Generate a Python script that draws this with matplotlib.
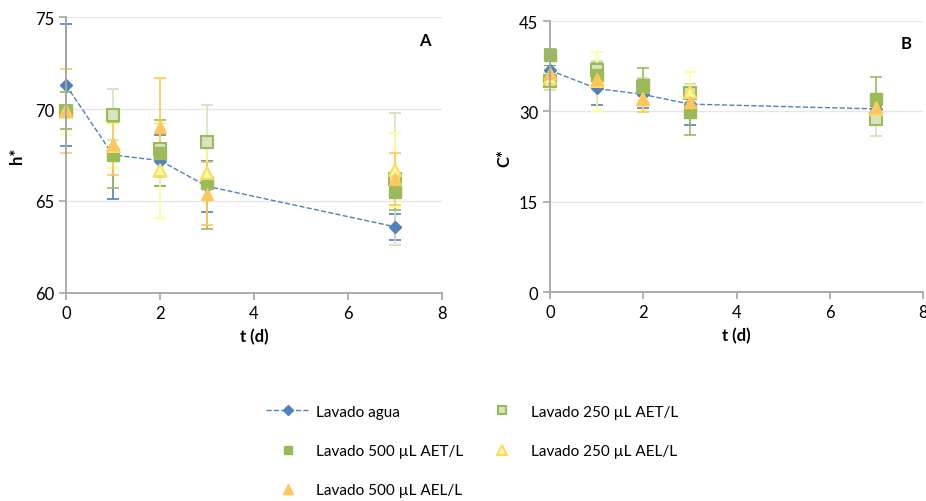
import numpy as np
import matplotlib
matplotlib.use("Agg")
import matplotlib.pyplot as plt
from matplotlib.lines import Line2D

plt.rcParams['font.family'] = ['Lato', 'DejaVu Sans']

# data
t = [0, 1, 2, 3, 7]
series = ["Lavado agua", "Lavado 250 µL AET/L", "Lavado 500 µL AET/L",
          "Lavado 250 µL AEL/L", "Lavado 500 µL AEL/L"]

h_agua = [71.3, 67.5, 67.2, 65.8, 63.6]
h_agua_err = [3.3, 2.4, 1.4, 1.4, 0.7]
h_250aet = [69.9, 69.7, 67.85, 68.2, 66.2]
h_250aet_err = [1.0, 1.4, 1.4, 2.0, 3.6]
h_500aet = [69.9, 67.5, 67.6, 66.0, 65.5]
h_500aet_err = [1.0, 1.8, 1.8, 2.5, 1.0]
h_250ael = [69.9, 68.0, 66.7, 66.5, 66.7]
h_250ael_err = [1.3, 1.2, 2.6, 1.4, 2.0]
h_500ael = [69.9, 68.1, 69.0, 65.4, 66.2]
h_500ael_err = [2.3, 1.7, 2.7, 1.7, 1.4]

c_agua = [36.8, 33.8, 32.8, 31.2, 30.4]
c_agua_err = [0.8, 2.8, 2.3, 3.4, 0.5]
c_250aet = [35.1, 36.9, 34.0, 33.0, 28.8]
c_250aet_err = [1.5, 1.5, 1.5, 1.5, 2.9]
c_500aet = [39.4, 36.0, 34.3, 29.9, 32.1]
c_500aet_err = [1.0, 2.0, 2.9, 3.9, 3.6]
c_250ael = [35.6, 35.0, 32.0, 33.2, 30.4]
c_250ael_err = [1.8, 4.9, 2.0, 3.3, 1.0]
c_500ael = [36.3, 35.3, 32.1, 31.5, 30.7]
c_500ael_err = [2.0, 1.5, 2.2, 2.3, 1.0]

blue = "#4F81BD"
green = "#9BBB59"
styles = [
    dict(marker="D", ms=6, mfc=blue, mec=blue, color=blue, ls="--", lw=1.0, ecolor=blue),
    dict(marker="s", ms=8, mfc="#D7E4BD", mec=green, mew=1.5, ls="none", ecolor="#D7E4BD"),
    dict(marker="s", ms=8, mfc=green, mec=green, ls="none", ecolor=green),
    dict(marker="^", ms=9, mfc="#FFFF99", mec="#FFD966", mew=1.5, ls="none", ecolor="#FFFF99"),
    dict(marker="^", ms=9, mfc="#FFC65A", mec="#FFC65A", ls="none", ecolor="#FFC65A"),
]

fig = plt.figure(figsize=(9.26, 5.02), dpi=100)
axA = fig.add_axes([66 / 926, 1 - 294 / 502, (442 - 66) / 926, (294 - 18) / 502])
axB = fig.add_axes([550 / 926, 1 - 293 / 502, (923 - 550) / 926, (293 - 22) / 502])


def draw(ax, vals, errs, ylim, yticks, ylabel, letter, lx):
    for lab, y, e, st in zip(series, vals, errs, styles):
        ax.errorbar(t, y, yerr=e, capsize=4, elinewidth=1.2, capthick=1.2,
                    label=lab, clip_on=False, **st)
    ax.set_xlim(0, 8)
    ax.set_ylim(*ylim)
    ax.set_xticks([0, 2, 4, 6, 8])
    ax.set_yticks(yticks)
    ax.grid(axis="y", color="#E6E6E6", lw=1)
    ax.set_axisbelow(True)
    for s in ["top", "right"]:
        ax.spines[s].set_visible(False)
    for s in ["left", "bottom"]:
        ax.spines[s].set_color("#A6A6A6")
        ax.spines[s].set_linewidth(1.3)
    ax.tick_params(colors="#A6A6A6", labelcolor="black", labelsize=12, length=5, width=1.2)
    ax.set_xlabel("t (d)", fontsize=12, fontweight="bold", labelpad=5)
    ax.set_ylabel(ylabel, fontsize=12, fontweight="bold")
    ax.text(lx, 0.9, letter, transform=ax.transAxes, fontsize=12,
            fontweight="bold", ha="center")


draw(axA, [h_agua, h_250aet, h_500aet, h_250ael, h_500ael],
     [h_agua_err, h_250aet_err, h_500aet_err, h_250ael_err, h_500ael_err],
     (60, 75), [60, 65, 70, 75], "h*", "A", 0.955)
draw(axB, [c_agua, c_250aet, c_500aet, c_250ael, c_500ael],
     [c_agua_err, c_250aet_err, c_500aet_err, c_250ael_err, c_500ael_err],
     (0, 45), [0, 15, 30, 45], "C*", "B", 0.955)
axA.yaxis.set_label_coords(-0.11, 0.5)
axB.yaxis.set_label_coords(-0.1, 0.5)

# legend handles without error bars
leg_handles = []
for st in styles:
    kw = {k: v for k, v in st.items() if k != "ecolor"}
    kw["ms"] = kw["ms"] * 0.8
    leg_handles.append(Line2D([], [], **kw))
order = [0, 2, 4, 1, 3]
fig.legend([leg_handles[i] for i in order], [series[i] for i in order],
           loc="upper left", bbox_to_anchor=(252 / 926, 1 - 392 / 502),
           ncol=2, frameon=False, fontsize=11, handlelength=2.9,
           columnspacing=1.1, labelspacing=1.65, handletextpad=0.4)

fig.savefig("out.png", dpi=100)
